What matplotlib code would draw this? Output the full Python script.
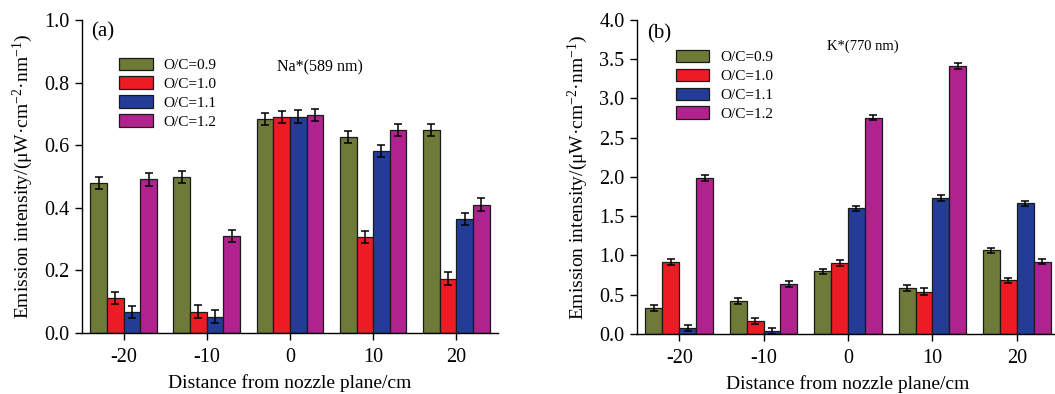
import matplotlib
matplotlib.use('Agg')
import matplotlib.pyplot as plt
import numpy as np
from matplotlib.patches import Patch

plt.rcParams['font.family'] = ['Liberation Serif', 'DejaVu Serif']
plt.rcParams['mathtext.fontset'] = 'custom'
plt.rcParams['mathtext.rm'] = 'Liberation Serif'
plt.rcParams['mathtext.it'] = 'Liberation Serif:italic'

positions = [-20, -10, 0, 10, 20]
tick_labels = ['-20', '-10', '0', '10', '20']
series = ['O/C=0.9', 'O/C=1.0', 'O/C=1.1', 'O/C=1.2']
colors = ['#6d7a38', '#ec1c24', '#233d96', '#b0228e']

# panel (a) Na*(589 nm)
na_09 = [0.479, 0.498, 0.683, 0.627, 0.649]
na_10 = [0.112, 0.068, 0.690, 0.306, 0.174]
na_11 = [0.067, 0.052, 0.691, 0.581, 0.364]
na_12 = [0.491, 0.310, 0.696, 0.649, 0.410]
na_err = [0.02, 0.02, 0.02, 0.02, 0.02]

# panel (b) K*(770 nm)
k_09 = [0.33, 0.424, 0.797, 0.59, 1.065]
k_10 = [0.92, 0.17, 0.903, 0.54, 0.683]
k_11 = [0.076, 0.034, 1.60, 1.73, 1.663]
k_12 = [1.99, 0.636, 2.757, 3.415, 0.92]
k_err = [0.035, 0.04, 0.035, 0.04, 0.03]

fig = plt.figure(figsize=(10.55, 3.94), dpi=100)
ax1 = fig.add_axes([0.0777, 0.1548, 0.3943, 0.7944])
ax2 = fig.add_axes([0.6038, 0.1523, 0.400, 0.797])

offsets = [-3, -1, 1, 3]
x = np.array(positions)


def draw(ax, data, err, ylim, yticks, label, note, note_xy, note_size, leg_xy, tag, tag_xy):
    for i, vals in enumerate(data):
        ax.bar(x + offsets[i], vals, width=2, color=colors[i], edgecolor='#1a1a1a',
               linewidth=0.9, zorder=2)
        ax.errorbar(x + offsets[i], vals, yerr=err, fmt='none', ecolor='black',
                    elinewidth=1.1, capsize=2.6, capthick=1.1, zorder=3)
    ax.set_xlim(-25, 25)
    ax.set_ylim(*ylim)
    ax.set_yticks(yticks)
    ax.set_yticklabels(['%.1f' % v for v in yticks])
    ax.set_xticks(positions)
    ax.set_xticklabels(tick_labels)
    ax.spines['top'].set_visible(False)
    ax.spines['right'].set_visible(False)
    ax.spines['left'].set_linewidth(1.0)
    ax.spines['bottom'].set_linewidth(1.0)
    ax.tick_params(direction='out', length=5, width=1.0, labelsize=14.5, pad=4)
    ax.tick_params(axis='x', pad=6)
    ax.set_xlabel('Distance from nozzle plane/cm', fontsize=14, labelpad=5)
    ax.set_ylabel(label, fontsize=14, labelpad=7)
    ax.text(note_xy[0], note_xy[1], note, transform=ax.transAxes, fontsize=note_size,
            ha='center', va='center')
    ax.text(tag_xy[0], tag_xy[1], tag, transform=ax.transAxes, fontsize=15,
            ha='left', va='center')
    handles = [Patch(facecolor=c, edgecolor='#1a1a1a', linewidth=0.9) for c in colors]
    ax.legend(handles, series, loc='upper left', bbox_to_anchor=leg_xy, frameon=False,
              fontsize=11, handlelength=2.2, handleheight=0.9, labelspacing=0.28,
              handletextpad=0.7, borderpad=0, borderaxespad=0)


ylab = 'Emission intensity/(μW·cm$^{-2}$·nm$^{-1}$)'
draw(ax1, [na_09, na_10, na_11, na_12], na_err, (0, 1.0), np.arange(0, 1.01, 0.2),
     ylab, 'Na*(589 nm)', (0.572, 0.85), 11.5, (0.089, 0.88), '(a)', (0.022, 0.962))
draw(ax2, [k_09, k_10, k_11, k_12], k_err, (0, 4.0), np.arange(0, 4.01, 0.5),
     ylab, 'K*(770 nm)', (0.535, 0.917), 10.5, (0.092, 0.905), '(b)', (0.024, 0.955))

fig.savefig('out.png', dpi=100)
